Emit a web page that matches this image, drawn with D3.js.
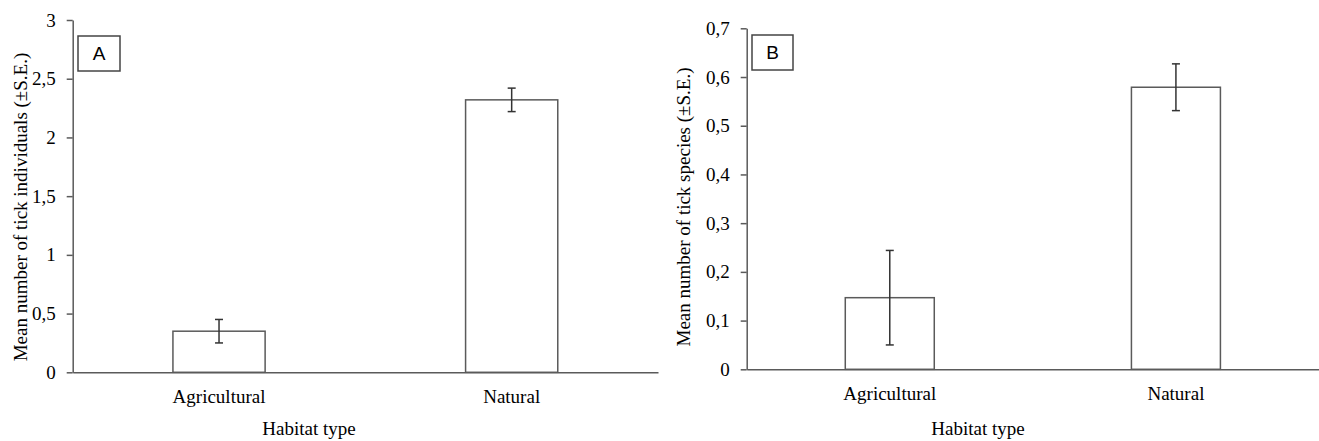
<!DOCTYPE html>
<html>
<head>
<meta charset="utf-8">
<script src="https://cdn.jsdelivr.net/npm/d3@7"></script>
<style>
  body { margin: 0; background: #fff; }
  svg { display: block; }
  .tick text, .lbl { font-family: "Liberation Serif", "Times New Roman", serif; font-size: 19px; fill: #000; }
  .panel-id { font-family: "Liberation Sans", Arial, sans-serif; font-size: 19px; fill: #000; }
</style>
</head>
<body>
<script>
var swidth = 1319,
    sheight = 441;

// data
var categories = ["Agricultural", "Natural"];
var meansA = [0.35, 2.32],
    seA = [0.1, 0.1];
var meansB = [0.147, 0.579],
    seB = [0.097, 0.048];
var ticksA = [0, 0.5, 1, 1.5, 2, 2.5, 3],
    tickLabelsA = ["0", "0,5", "1", "1,5", "2", "2,5", "3"];
var ticksB = [0, 0.1, 0.2, 0.3, 0.4, 0.5, 0.6, 0.7],
    tickLabelsB = ["0", "0,1", "0,2", "0,3", "0,4", "0,5", "0,6", "0,7"];
var yTitleA = "Mean number of tick individuals  (\u00b1S.E.)",
    yTitleB = "Mean number of tick species (\u00b1S.E.)",
    xTitle = "Habitat type";

var lineColor = "#5a5a5a",
    errColor = "#333";

var svg = d3.select("body").append("svg")
    .attr("width", swidth)
    .attr("height", sheight);

drawPanel({
  x0: 72.7, x1: 658, yTop: 20, yBottom: 372.3,
  max: 3, means: meansA, se: seA, ticks: ticksA, tickLabels: tickLabelsA,
  barFrac: 0.315, yTitle: yTitleA, yTitleX: 20, yTitleY: 207,
  xTitleX: 309, id: "A", box: [78, 36, 42, 35]
});

drawPanel({
  x0: 746.7, x1: 1319, yTop: 28.3, yBottom: 369.3,
  max: 0.7, means: meansB, se: seB, ticks: ticksB, tickLabels: tickLabelsB,
  barFrac: 0.311, yTitle: yTitleB, yTitleX: 683, yTitleY: 207,
  xTitleX: 978, id: "B", box: [752, 35, 41, 35]
});

function drawPanel(p) {
  var g = svg.append("g");

  var x = d3.scaleBand()
      .domain(categories)
      .range([p.x0, p.x1])
      .paddingInner(1 - p.barFrac)
      .paddingOuter((1 - p.barFrac) / 2);

  var y = d3.scaleLinear()
      .domain([0, p.max])
      .range([p.yBottom, p.yTop]);

  // bars
  g.selectAll("rect.bar")
    .data(categories)
    .enter().append("rect")
    .attr("class", "bar")
    .attr("x", function(d) { return x(d); })
    .attr("width", x.bandwidth())
    .attr("y", function(d, i) { return y(p.means[i]); })
    .attr("height", function(d, i) { return y(0) - y(p.means[i]); })
    .attr("fill", "#fff")
    .attr("stroke", lineColor)
    .attr("stroke-width", 1.5);

  // error bars
  var eb = g.selectAll("g.err")
    .data(categories)
    .enter().append("g")
    .attr("class", "err")
    .attr("stroke", errColor)
    .attr("stroke-width", 1.5);
  var cx = function(d) { return x(d) + x.bandwidth() / 2; };
  eb.append("line")
    .attr("x1", cx).attr("x2", cx)
    .attr("y1", function(d, i) { return y(p.means[i] + p.se[i]); })
    .attr("y2", function(d, i) { return y(p.means[i] - p.se[i]); });
  [1, -1].forEach(function(s) {
    eb.append("line")
      .attr("x1", function(d) { return cx(d) - 4; })
      .attr("x2", function(d) { return cx(d) + 4; })
      .attr("y1", function(d, i) { return y(p.means[i] + s * p.se[i]); })
      .attr("y2", function(d, i) { return y(p.means[i] + s * p.se[i]); });
  });

  // x axis
  var xa = g.append("g")
    .attr("transform", "translate(0," + y(0) + ")")
    .call(d3.axisBottom(x).tickSize(0).tickPadding(17).tickSizeOuter(0));
  xa.select(".domain").attr("stroke", lineColor).attr("stroke-width", 1.5);
  xa.selectAll(".tick text").attr("font-family", null).attr("font-size", null);

  // y axis
  var ya = g.append("g")
    .attr("transform", "translate(" + p.x0 + ",0)")
    .call(d3.axisLeft(y)
      .tickValues(p.ticks)
      .tickFormat(function(d, i) { return p.tickLabels[i]; })
      .tickSize(6)
      .tickSizeOuter(0)
      .tickPadding(11));
  ya.select(".domain").attr("stroke", lineColor).attr("stroke-width", 1.5);
  ya.selectAll(".tick line").attr("stroke", lineColor).attr("stroke-width", 1.5);
  ya.selectAll(".tick text").attr("font-family", null).attr("font-size", null);

  // titles
  g.append("text")
    .attr("class", "lbl")
    .attr("transform", "translate(" + p.yTitleX + "," + p.yTitleY + ") rotate(-90)")
    .attr("text-anchor", "middle")
    .attr("dy", "0.35em")
    .text(p.yTitle);

  g.append("text")
    .attr("class", "lbl")
    .attr("x", p.xTitleX)
    .attr("y", 435)
    .attr("text-anchor", "middle")
    .text(xTitle);

  // panel letter box
  g.append("rect")
    .attr("x", p.box[0]).attr("y", p.box[1])
    .attr("width", p.box[2]).attr("height", p.box[3])
    .attr("fill", "#fff")
    .attr("stroke", "#444")
    .attr("stroke-width", 1.5);
  g.append("text")
    .attr("class", "panel-id")
    .attr("x", p.box[0] + p.box[2] / 2)
    .attr("y", p.box[1] + p.box[3] / 2)
    .attr("dy", "0.36em")
    .attr("text-anchor", "middle")
    .text(p.id);
}
</script>
</body>
</html>
